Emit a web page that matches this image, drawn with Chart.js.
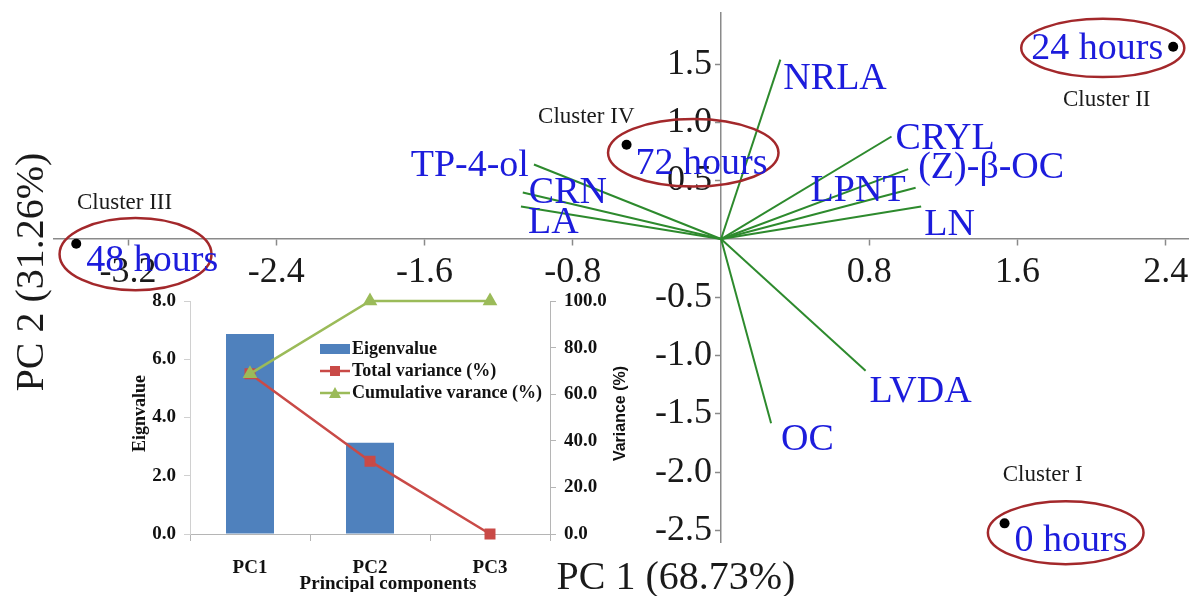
<!DOCTYPE html>
<html>
<head>
<meta charset="utf-8">
<script src="https://cdn.jsdelivr.net/npm/chart.js@4.4.1/dist/chart.umd.min.js"></script>
<style>
  html, body { margin: 0; padding: 0; background: #fff; }
  #wrap { position: relative; width: 1193px; height: 596px; overflow: hidden; }
  #biplot { position: absolute; left: 0; top: 0; }
  #inset { position: absolute; left: 125px; top: 288px; }
</style>
</head>
<body>
<div id="wrap">
  <canvas id="biplot" width="1193" height="596"></canvas>
  <canvas id="inset" width="510" height="304"></canvas>
</div>
<script>
// biplot: loadings + sample scores on PC1 / PC2
const xTickValues = [-3.2, -2.4, -1.6, -0.8, 0.8, 1.6, 2.4];
const yTickValues = [-2.5, -2.0, -1.5, -1.0, -0.5, 0.5, 1.0, 1.5];

const loadingNames = ['NRLA', 'CRYL', '(Z)-β-OC', 'LPNT', 'LN', 'LVDA', 'OC', 'TP-4-ol', 'CRN', 'LA'];
const loadingPC1 = [0.32, 0.92, 1.01, 1.05, 1.08, 0.78, 0.27, -1.01, -1.07, -1.08];
const loadingPC2 = [1.54, 0.88, 0.60, 0.44, 0.28, -1.13, -1.58, 0.64, 0.40, 0.28];

const sampleNames = ['0 hours', '24 hours', '48 hours', '72 hours'];
const samplePC1 = [1.53, 2.44, -3.48, -0.51];
const samplePC2 = [-2.44, 1.65, -0.04, 0.81];

const clusterNames = ['Cluster I', 'Cluster II', 'Cluster III', 'Cluster IV'];
const clusterCenterX = [1.86, 2.06, -3.16, -0.15];
const clusterCenterY = [-2.52, 1.64, -0.13, 0.74];
const clusterRadiusX = [0.42, 0.44, 0.41, 0.46];
const clusterRadiusY = [0.27, 0.25, 0.31, 0.29];

// inset: eigenvalues and explained variance
const components = ['PC1', 'PC2', 'PC3'];
const eigenvalues = [6.87, 3.13, 0.0];
const totalVariance = [68.73, 31.26, 0.01];
const cumulativeVariance = [68.73, 99.99, 100.0];
const eigenTicks = [0, 2, 4, 6, 8];
const varianceTicks = [0, 20, 40, 60, 80, 100];

const SERIF = '"Liberation Serif", "Times New Roman", serif';
const BLUE = '#1c1cdc';
const GREEN = '#2d8a2d';
const RING = '#a3282b';

// label offsets in px, relative to the mark they name
const loadingLabelPos = [
    { dx: 3, dy: 19, align: 'left' },
    { dx: 4, dy: 3, align: 'left' },
    { dx: 10, dy: -1, align: 'left' },
    { dx: -10, dy: 3, align: 'right' },
    { dx: 3, dy: 19, align: 'left' },
    { dx: 4, dy: 21, align: 'left' },
    { dx: 10, dy: 17, align: 'left' },
    { dx: -5, dy: 2, align: 'right' },
    { dx: 6, dy: 1, align: 'left' },
    { dx: 7, dy: 17, align: 'left' }
];
const sampleLabelPos = [
    { dx: 10, dy: 18, align: 'left' },
    { dx: -10, dy: 2, align: 'right' },
    { dx: 10, dy: 17, align: 'left' },
    { dx: 9, dy: 19, align: 'left' }
];
const clusterLabelPos = [
    { dx: -23, dy: -58 },
    { dx: 4, dy: 52 },
    { dx: -11, dy: -51 },
    { dx: -107, dy: -36 }
];

function putText(ctx, text, x, y, align, font, color, rot) {
    ctx.save();
    ctx.translate(x, y);
    if (rot) ctx.rotate(rot);
    ctx.font = font;
    ctx.fillStyle = color;
    ctx.textAlign = align;
    ctx.textBaseline = 'middle';
    ctx.fillText(text, 0, 0);
    ctx.restore();
}

const biplotDecor = {
    id: 'biplotDecor',
    afterDatasetsDraw(chart) {
        const { ctx, scales: { x, y } } = chart;
        const px = v => x.getPixelForValue(v);
        const py = v => y.getPixelForValue(v);

        ctx.save();
        ctx.strokeStyle = RING;
        ctx.lineWidth = 2.5;
        clusterNames.forEach((name, i) => {
            const cx = px(clusterCenterX[i]), cy = py(clusterCenterY[i]);
            const rx = px(clusterCenterX[i] + clusterRadiusX[i]) - cx;
            const ry = cy - py(clusterCenterY[i] + clusterRadiusY[i]);
            ctx.beginPath();
            ctx.ellipse(cx, cy, rx, ry, 0, 0, Math.PI * 2);
            ctx.stroke();
            const p = clusterLabelPos[i];
            putText(ctx, name, cx + p.dx, cy + p.dy, 'center', '23px ' + SERIF, '#1a1a1a');
        });
        ctx.restore();

        loadingNames.forEach((name, i) => {
            const p = loadingLabelPos[i];
            putText(ctx, name, px(loadingPC1[i]) + p.dx, py(loadingPC2[i]) + p.dy, p.align, '38px ' + SERIF, BLUE);
        });
        sampleNames.forEach((name, i) => {
            const p = sampleLabelPos[i];
            putText(ctx, name, px(samplePC1[i]) + p.dx, py(samplePC2[i]) + p.dy, p.align, '38px ' + SERIF, BLUE);
        });

        // axis titles
        putText(ctx, 'PC 2 (31.26%)', 32, 272, 'center', '40px ' + SERIF, '#1a1a1a', -Math.PI / 2);
        putText(ctx, 'PC 1 (68.73%)', 676, 578, 'center', '40px ' + SERIF, '#1a1a1a');
    }
};

const vectorSets = loadingNames.map((name, i) => ({
    label: name,
    data: [{ x: 0, y: 0 }, { x: loadingPC1[i], y: loadingPC2[i] }],
    showLine: true,
    borderColor: GREEN,
    borderWidth: 2,
    pointRadius: 0,
    order: 2
}));
const scoreSet = {
    label: 'Samples',
    data: sampleNames.map((n, i) => ({ x: samplePC1[i], y: samplePC2[i] })),
    showLine: false,
    pointRadius: 5,
    pointBackgroundColor: '#000',
    pointBorderWidth: 0,
    order: 1
};

const zeroFit = (w, h) => s => {
    if (w != null) s.width = w;
    if (h != null) s.height = h;
    s.paddingLeft = s.paddingRight = s.paddingTop = s.paddingBottom = 0;
};

new Chart(document.getElementById('biplot'), {
    type: 'scatter',
    data: { datasets: [...vectorSets, scoreSet] },
    options: {
        responsive: false,
        animation: false,
        layout: { padding: { left: 54, right: 0, top: 13, bottom: 54 } },
        plugins: { legend: { display: false }, tooltip: { enabled: false } },
        scales: {
            x: {
                type: 'linear', min: -3.6, max: 2.52, bounds: 'data',
                position: { y: 0 },
                afterBuildTicks: s => { s.ticks = xTickValues.map(v => ({ value: v })); },
                afterFit: zeroFit(null, 0),
                grid: { drawOnChartArea: false, tickLength: 6, color: '#8a8a8a', tickWidth: 1.5 },
                border: { color: '#8a8a8a', width: 1.5 },
                ticks: {
                    autoSkip: false, maxRotation: 0, padding: 6, color: '#1a1a1a',
                    font: { family: SERIF, size: 36 },
                    callback: v => v.toFixed(1)
                }
            },
            y: {
                type: 'linear', min: -2.6, max: 1.94, bounds: 'data',
                position: { x: 0 },
                afterBuildTicks: s => { s.ticks = yTickValues.map(v => ({ value: v })); },
                afterFit: zeroFit(0, null),
                grid: { drawOnChartArea: false, tickLength: 5, color: '#8a8a8a', tickWidth: 1.5 },
                border: { color: '#8a8a8a', width: 1.5 },
                ticks: {
                    autoSkip: false, padding: 4, color: '#1a1a1a',
                    font: { family: SERIF, size: 36 },
                    // labels sit flush on the axis when it is placed by value; a trailing space keeps the gap
                    callback: v => v.toFixed(1) + ' '
                }
            }
        }
    },
    plugins: [biplotDecor]
});

// inset chart
const insetDecor = {
    id: 'insetDecor',
    afterDraw(chart) {
        const { ctx, chartArea: a } = chart;
        const font = 'bold 18px ' + SERIF;
        const lx = a.left + 130;
        chart.data.datasets.forEach((ds, i) => {
            const cy = a.top + 48 + i * 22;
            ctx.save();
            if (ds.type === 'bar') {
                ctx.fillStyle = ds.backgroundColor;
                ctx.fillRect(lx, cy - 5, 30, 10);
            } else {
                ctx.strokeStyle = ds.borderColor;
                ctx.lineWidth = ds.borderWidth;
                ctx.beginPath();
                ctx.moveTo(lx, cy);
                ctx.lineTo(lx + 30, cy);
                ctx.stroke();
                ctx.fillStyle = ds.backgroundColor;
                ctx.beginPath();
                if (ds.pointStyle === 'rect') {
                    ctx.rect(lx + 10, cy - 5, 10, 10);
                } else {
                    ctx.moveTo(lx + 15, cy - 6);
                    ctx.lineTo(lx + 21, cy + 5);
                    ctx.lineTo(lx + 9, cy + 5);
                    ctx.closePath();
                }
                ctx.fill();
            }
            ctx.restore();
            putText(ctx, ds.label, lx + 32, cy, 'left', font, '#111');
        });
        const midY = (a.top + a.bottom) / 2 - 4;
        putText(ctx, 'Eignvalue', 15, midY, 'center', font, '#111', -Math.PI / 2);
        putText(ctx, 'Variance (%)', 496, midY, 'center', 'bold 16px "Liberation Sans", Arial, sans-serif', '#111', -Math.PI / 2);
        putText(ctx, 'Principal components', (a.left + a.right) / 2 + 18, 296, 'center', 'bold 19px ' + SERIF, '#111');
    }
};

const insetTickFont = { family: SERIF, size: 19, weight: 'bold' };

new Chart(document.getElementById('inset'), {
    type: 'bar',
    data: {
        labels: components,
        datasets: [
            {
                type: 'bar', label: 'Eigenvalue', data: eigenvalues,
                backgroundColor: '#4f81bd', yAxisID: 'y',
                barPercentage: 0.4, categoryPercentage: 1, order: 2
            },
            {
                type: 'line', label: 'Total variance (%)', data: totalVariance,
                borderColor: '#c94a47', backgroundColor: '#c94a47', borderWidth: 2.5,
                pointStyle: 'rect', pointRadius: 6, yAxisID: 'y1', order: 1, clip: false
            },
            {
                type: 'line', label: 'Cumulative varance (%)', data: cumulativeVariance,
                borderColor: '#9bbb59', backgroundColor: '#9bbb59', borderWidth: 2.5,
                pointStyle: 'triangle', pointRadius: 6, yAxisID: 'y1', order: 0, clip: false
            }
        ]
    },
    options: {
        responsive: false,
        animation: false,
        layout: { padding: { top: 13, left: 0, right: 0, bottom: 0 } },
        plugins: { legend: { display: false }, tooltip: { enabled: false } },
        scales: {
            x: {
                afterFit: zeroFit(null, 58),
                grid: { offset: true, drawOnChartArea: false, tickLength: 7, color: '#b5b5b5' },
                border: { color: '#b5b5b5' },
                ticks: { padding: 16, color: '#111', font: insetTickFont }
            },
            y: {
                position: 'left', min: 0, max: 8,
                afterBuildTicks: s => { s.ticks = eigenTicks.map(v => ({ value: v })); },
                afterFit: zeroFit(65, null),
                grid: { drawOnChartArea: false, tickLength: 6, color: '#d0d0d0' },
                border: { color: '#d0d0d0' },
                ticks: { padding: 8, color: '#111', font: insetTickFont, callback: v => v.toFixed(1) }
            },
            y1: {
                position: 'right', min: 0, max: 100,
                afterBuildTicks: s => { s.ticks = varianceTicks.map(v => ({ value: v })); },
                afterFit: zeroFit(85, null),
                grid: { drawOnChartArea: false, tickLength: 6, color: '#b5b5b5' },
                border: { color: '#b5b5b5' },
                ticks: { padding: 8, color: '#111', font: insetTickFont, callback: v => v.toFixed(1) }
            }
        }
    },
    plugins: [insetDecor]
});
</script>
</body>
</html>
